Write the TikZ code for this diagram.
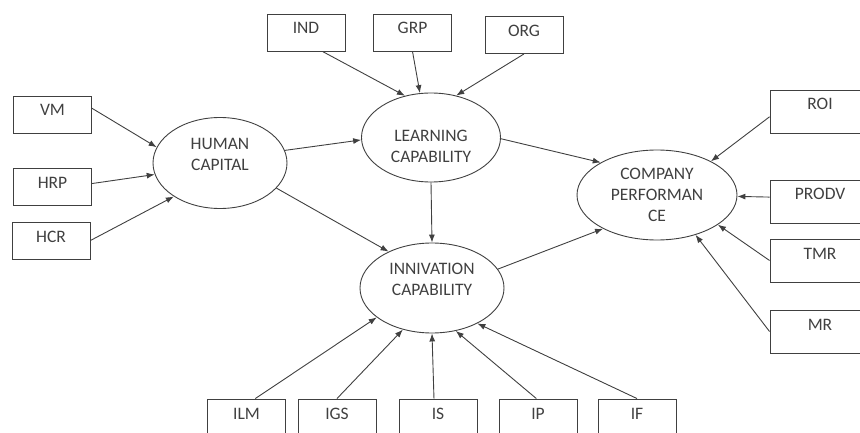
\documentclass[tikz,border=0pt]{standalone}
\usepackage{fontspec}
\setmainfont{Carlito}
\usetikzlibrary{shapes.geometric,arrows.meta}
\definecolor{ink}{HTML}{404040}
\begin{document}
\begin{tikzpicture}[x=1pt,y=-1pt,>={Latex[length=8pt,width=6pt]},ink,line width=0.9pt,font=\fontsize{17.5}{21}\selectfont]
     \tikzstyle{box}=[draw, rectangle, minimum width=78pt, inner xsep=2pt, inner ysep=3pt, text height=17pt, text depth=14pt]
     \tikzstyle{rbox}=[box, minimum width=100pt, text depth=20pt]
     \tikzstyle{oval}=[draw, ellipse, inner sep=0pt]
     \tikzstyle{word}=[align=center, text=ink]
     \useasboundingbox (0,0) rectangle (860,433);
     \node[oval, minimum width=134pt, minimum height=91pt, label={[word,yshift=8.5pt]center:HUMAN\\CAPITAL}] (hc) at (220,163) {};
     \node[oval, minimum width=139pt, minimum height=89pt, label={[word,yshift=-8.5pt]center:LEARNING\\CAPABILITY}] (lc) at (431,137.5) {};
     \node[oval, minimum width=144pt, minimum height=90pt, label={[word,yshift=9pt]center:INNIVATION\\CAPABILITY}] (ic) at (432,288) {};
     \node[oval, minimum width=160pt, minimum height=90pt, label={[word]center:COMPANY\\PERFORMAN\\CE}] (cp) at (657,195) {};
     \node[box] (vm) at (52.5,114.5) {VM};
     \node[box] (hrp) at (52.5,187) {HRP};
     \node[box] (hcr) at (51,240.5) {HCR};
     \node[box] (ind) at (306,32.5) {IND};
     \node[box] (grp) at (412.5,32.5) {GRP};
     \node[box] (org) at (524,35) {ORG};
     \node[rbox] (roi) at (820,111.5) {ROI};
     \node[rbox] (prodv) at (820,201.5) {PRODV};
     \node[rbox] (tmr) at (820,260.5) {TMR};
     \node[rbox] (mr) at (820,331.5) {MR};
     \node[box] (ilm) at (246.5,417.5) {ILM};
     \node[box] (igs) at (337,417.5) {IGS};
     \node[box] (is) at (438,417.5) {IS};
     \node[box] (ip) at (538,417.5) {IP};
     \node[box] (ifb) at (637,417.5) {IF};
     \draw[->] (vm.9) -- (hc.166);
     \draw[->] (hrp.5) -- (hc.190);
     \draw[->] (hcr.east) -- (hc.216);
     \draw[->] (ind.-49) -- (lc.122);
     \draw[->] (grp.south) -- (lc.104);
     \draw[->] (org.south) -- (lc.59);
     \draw[->] (hc.11) -- (lc.182);
     \draw[->] (hc.-24) -- (ic.140);
     \draw[->] (lc.south) -- (ic.north);
     \draw[->] (lc.-1) -- (cp.150);
     \draw[->] (ic.16) -- (cp.212);
     \draw[->] (roi.186) -- (cp.32);
     \draw[->] (prodv.175) -- (cp.-1);
     \draw[->] (tmr.west) -- (cp.-26);
     \draw[->] (mr.west) -- (cp.-46);
     \draw[->] (ilm.65) -- (ic.208);
     \draw[->] (igs.north) -- (ic.235);
     \draw[->] (is.102) -- (ic.south);
     \draw[->] (ip.95) -- (ic.-61);
     \draw[->] (ifb.north) -- (ic.-38);
\end{tikzpicture}
\end{document}
